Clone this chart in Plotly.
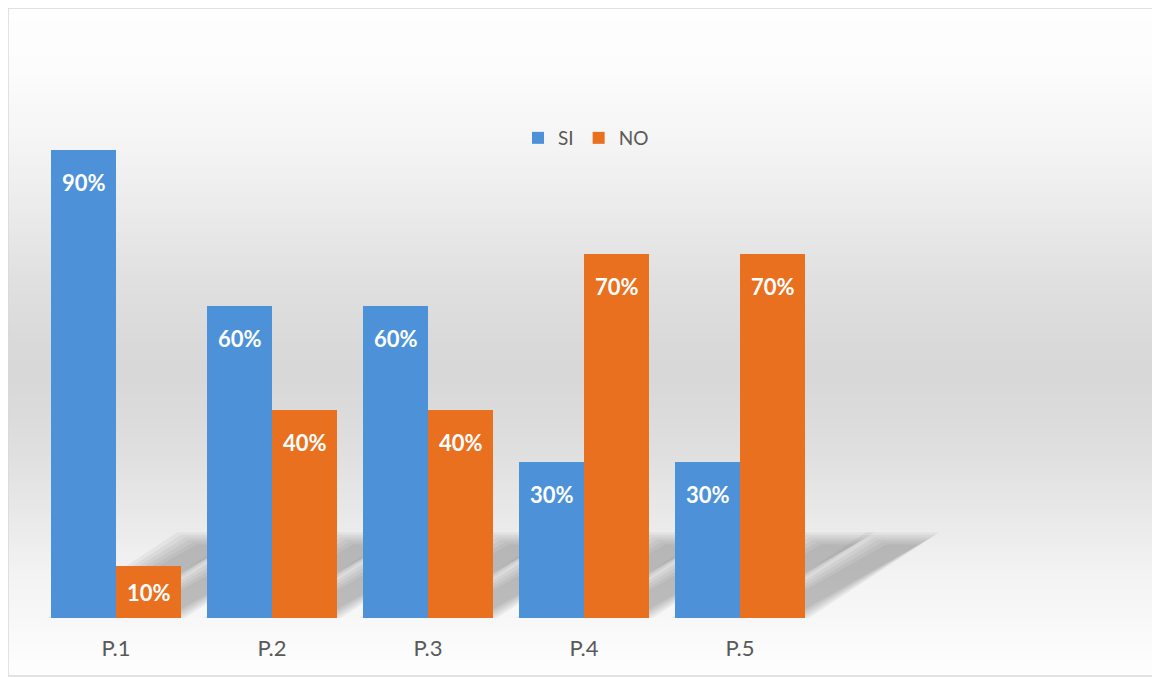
import plotly.graph_objects as go

categories = ["P.1", "P.2", "P.3", "P.4", "P.5"]
si_values = [0.9, 0.6, 0.6, 0.3, 0.3]
no_values = [0.1, 0.4, 0.4, 0.7, 0.7]
series_names = ["SI", "NO"]
series_colors = ["#4d92d8", "#e8701f"]

OFF = 8  # page offset of the figure (body margin)
W, H = 1160, 677
L, R, T, B = 30, 10, 90, 67
plot_w = W - L - R
plot_h = H - T - B
cat_px = 156.0
x_range = [-0.5, -0.5 + plot_w / cat_px]


def pxx(px):  # page x -> paper
    return (px - OFF - L) / plot_w


def pxy(py):  # page y -> paper
    return (H - B - (py - OFF)) / plot_h


fig = go.Figure()
for name, vals, col in zip(series_names, [si_values, no_values], series_colors):
    fig.add_trace(go.Bar(x=categories, y=vals, name=name, marker=dict(color=col, line=dict(width=0))))

shapes = []
# background gradient (white -> gray -> white), page coordinates
stops = [(8, 254), (70, 252), (140, 245), (210, 235), (280, 224), (345, 217), (380, 216),
         (445, 222), (510, 232), (575, 243), (640, 250), (676, 254)]


def level(py):
    for (a, la), (b, lb) in zip(stops[:-1], stops[1:]):
        if a <= py <= b:
            return la + (lb - la) * (py - a) / (b - a)
    return 255


N = 140
y0, y1 = 8, 676
for k in range(N):
    ta = y0 + (y1 - y0) * k / N
    tb = y0 + (y1 - y0) * (k + 1) / N
    g = int(round(level((ta + tb) / 2)))
    shapes.append(dict(type="rect", xref="paper", yref="paper", x0=pxx(8), x1=pxx(1158),
                       y0=pxy(tb) - 0.0008, y1=pxy(ta) + 0.0008,
                       fillcolor=f"rgb({g},{g},{g})", line=dict(width=0), layer="below"))

# soft floor shadows derived from bar positions
bar_w = 65
base = OFF + H - B
for i in range(len(categories)):
    cx = OFF + L + (i + 0.5) * cat_px
    for s in range(2):
        x0 = cx - bar_w + s * bar_w
        x1 = x0 + bar_w
        for ins in [-4, 0, 4, 8, 12, 16]:
            dx, dy = 130, 83 - ins * 0.6
            path = (f"M {pxx(x0 + ins)},{pxy(base)} L {pxx(x1 - ins)},{pxy(base)} "
                    f"L {pxx(x1 + dx - ins)},{pxy(base - dy)} L {pxx(x0 + dx + ins)},{pxy(base - dy)} Z")
            shapes.append(dict(type="path", xref="paper", yref="paper", path=path,
                               fillcolor="rgba(90,90,90,0.07)", line=dict(width=0), layer="below"))

# outer frame
shapes.append(dict(type="rect", xref="paper", yref="paper", x0=pxx(8), x1=pxx(1158), y0=pxy(676), y1=pxy(8),
                   line=dict(color="#d9d9d9", width=1.5), fillcolor="rgba(0,0,0,0)", layer="above"))

annotations = []
for s, vals in enumerate([si_values, no_values]):
    for cat, v in zip(categories, vals):
        hpx = v * plot_h
        if hpx > 62:
            yv, ysh = v, -32
        else:
            yv, ysh = v / 2, 0
        annotations.append(dict(x=cat, y=yv, xref="x", yref="y", yshift=ysh, xshift=(-32.5 if s == 0 else 32.5),
                                text=f"{int(round(v * 100))}%", showarrow=False,
                                font=dict(family="Lato", size=22, color="white", weight="bold")))

fig.update_layout(
    width=W, height=H,
    margin=dict(l=L, r=R, t=T, b=B),
    paper_bgcolor="white", plot_bgcolor="rgba(0,0,0,0)",
    barmode="group", bargap=26 / 156, bargroupgap=0,
    shapes=shapes, annotations=annotations,
    showlegend=True,
    legend=dict(orientation="h", x=pxx(586), xanchor="center", y=pxy(138), yanchor="middle",
                font=dict(family="Lato", size=19, color="#595959"), bgcolor="rgba(0,0,0,0)", itemwidth=30),
    xaxis=dict(range=x_range, showgrid=False, zeroline=False, showline=False,
               ticks="", ticklabelstandoff=15, tickfont=dict(family="Lato", size=22, color="#595959")),
    yaxis=dict(range=[0, 1], visible=False, showgrid=False, zeroline=False),
)

fig.write_html("out.html")
